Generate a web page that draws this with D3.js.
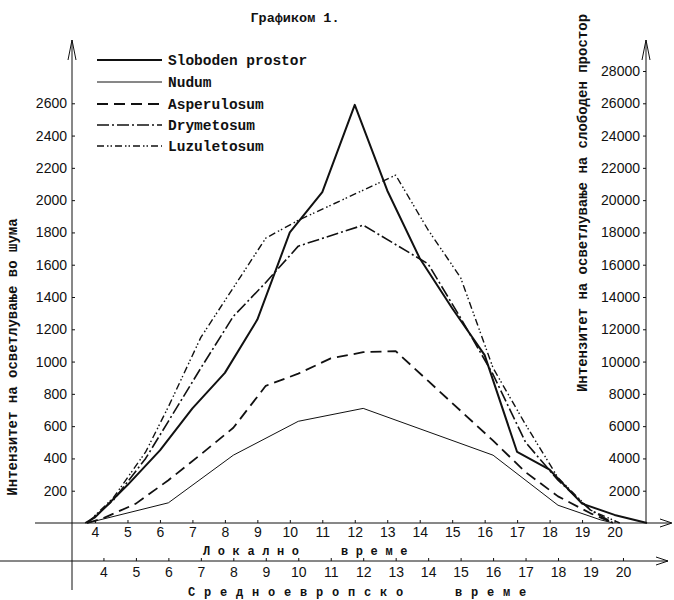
<!DOCTYPE html>
<html>
<head>
<meta charset="utf-8">
<script src="https://cdn.jsdelivr.net/npm/d3@7"></script>
<style>
body { margin: 0; background: #fff; }
text { fill: #111; }
.mono { font-family: "Liberation Mono", "DejaVu Sans Mono", monospace; font-weight: bold; }
.axis text { font-family: "Liberation Sans", Arial, sans-serif; font-size: 14px; fill: #111; }
.axis line { stroke: #111; }
</style>
</head>
<body>
<script>
// hour ticks (local time on upper axis, central european time on lower axis)
var hourTicks = d3.range(4, 21);
var leftTicks = d3.range(200, 2800, 200);
var rightTicks = d3.range(2000, 30000, 2000);

// Sloboden prostor - local time, right axis
var slobodenHours = [3.7, 4, 5, 6, 7, 8, 9, 10, 11, 12, 13, 14, 15, 16, 17, 18, 19, 20, 21];
var slobodenValues = [0, 350, 2350, 4500, 7100, 9300, 12600, 18000, 20500, 25900, 20600, 16400, 13300, 10400, 4400, 3300, 1200, 500, 0];

// forest stands - central european time, left axis
var nudumHours = [3.5, 6, 8, 10, 12, 16, 18, 19.3, 19.7];
var nudumValues = [0, 125, 420, 630, 710, 420, 110, 20, 0];

var asperHours = [3.5, 4, 5, 6, 7, 8, 9, 10, 11, 12, 13, 14, 15, 16, 17, 18, 19, 19.7];
var asperValues = [0, 30, 120, 265, 425, 590, 850, 925, 1020, 1058, 1065, 880, 695, 510, 315, 165, 60, 0];

var drymHours = [3.5, 4.3, 5.3, 6, 7, 8, 9, 10, 12, 14, 15, 16, 17, 18, 19, 19.7];
var drymValues = [0, 140, 400, 630, 960, 1280, 1490, 1715, 1845, 1605, 1270, 920, 500, 265, 80, 0];

var luzHours = [3.5, 4.3, 5.3, 6, 7, 9, 10, 13, 14, 15, 16, 17, 18, 19, 19.9];
var luzValues = [0, 155, 440, 720, 1150, 1765, 1875, 2155, 1815, 1520, 960, 610, 280, 80, 0];

var legendNames = ["Sloboden prostor", "Nudum", "Asperulosum", "Drymetosum", "Luzuletosum"];

var width = 674, height = 600;

var svg = d3.select("body").append("svg")
    .attr("width", width)
    .attr("height", height);

var x = d3.scaleLinear().domain([4, 21]).range([95, 647]);
var xCet = d3.scaleLinear().domain([3.74, 20.74]).range([95, 647]);
var yLeft = d3.scaleLinear().domain([0, 2800]).range([523, 71]);
var yRight = d3.scaleLinear().domain([0, 28000]).range([523, 71]);

var styles = [
    { width: 2, dash: null },
    { width: 1, dash: null },
    { width: 1.8, dash: "11,6" },
    { width: 1.6, dash: "12,3,2,3" },
    { width: 1.4, dash: "7,3,1.5,2,1.5,3" }
];

// axes lines with arrows
var ink = "#111";
svg.append("line").attr("x1", 72).attr("x2", 72).attr("y1", 40).attr("y2", 590).attr("stroke", ink);
svg.append("line").attr("x1", 646).attr("x2", 646).attr("y1", 40).attr("y2", 523).attr("stroke", ink);
svg.append("line").attr("x1", 35).attr("x2", 671).attr("y1", 523).attr("y2", 523).attr("stroke", ink);
svg.append("line").attr("x1", 0).attr("x2", 668).attr("y1", 561).attr("y2", 561).attr("stroke", ink);

var arrows = [
    "M68,60 L72,40 L76,60",
    "M642,60 L646,40 L650,60",
    "M660,519 L672,523 L660,527",
    "M656,557 L668,561 L656,565"
];
svg.selectAll(".arrow").data(arrows).enter().append("path")
    .attr("d", function (d) { return d; })
    .attr("fill", "none")
    .attr("stroke", ink);

var intFmt = d3.format("d");

// tick axes
svg.append("g").attr("class", "axis")
    .attr("transform", "translate(72,0)")
    .call(d3.axisLeft(yLeft).tickValues(leftTicks).tickFormat(intFmt).tickSize(-3).tickPadding(5))
    .select(".domain").remove();

svg.append("g").attr("class", "axis")
    .attr("transform", "translate(646,0)")
    .call(d3.axisLeft(yRight).tickValues(rightTicks).tickFormat(intFmt).tickSize(3).tickPadding(3))
    .select(".domain").remove();

svg.append("g").attr("class", "axis")
    .attr("transform", "translate(0,523)")
    .call(d3.axisBottom(x).tickValues(hourTicks).tickSize(-3).tickPadding(4))
    .select(".domain").remove();

svg.append("g").attr("class", "axis")
    .attr("transform", "translate(0,561)")
    .call(d3.axisBottom(xCet).tickValues(hourTicks).tickSize(-3).tickPadding(6))
    .select(".domain").remove();

// series
var series = [
    { pts: d3.zip(slobodenHours, slobodenValues), xs: x, ys: yRight },
    { pts: d3.zip(nudumHours, nudumValues), xs: xCet, ys: yLeft },
    { pts: d3.zip(asperHours, asperValues), xs: xCet, ys: yLeft },
    { pts: d3.zip(drymHours, drymValues), xs: xCet, ys: yLeft },
    { pts: d3.zip(luzHours, luzValues), xs: xCet, ys: yLeft }
];

series.forEach(function (s, i) {
    var line = d3.line()
        .x(function (d) { return s.xs(d[0]); })
        .y(function (d) { return s.ys(d[1]); });
    svg.append("path")
        .datum(s.pts)
        .attr("d", line)
        .attr("fill", "none")
        .attr("stroke", ink)
        .attr("stroke-width", styles[i].width)
        .attr("stroke-dasharray", styles[i].dash)
        .attr("stroke-linejoin", "round");
});

// legend
var legendY = [60, 82, 104, 125, 146];
var legend = svg.selectAll(".legend").data(legendNames).enter().append("g")
    .attr("transform", function (d, i) { return "translate(0," + legendY[i] + ")"; });
legend.append("line")
    .attr("x1", 97).attr("x2", 162)
    .attr("stroke", ink)
    .attr("stroke-width", function (d, i) { return styles[i].width; })
    .attr("stroke-dasharray", function (d, i) { return styles[i].dash; });
legend.append("text")
    .attr("class", "mono")
    .attr("x", 168).attr("dy", "0.32em")
    .style("font-size", "14.5px")
    .text(function (d) { return d; });

// titles
svg.append("text").attr("class", "mono")
    .attr("x", 295).attr("y", 22)
    .attr("text-anchor", "middle")
    .style("font-size", "13.5px")
    .text("Графиком 1.");

svg.append("text").attr("class", "mono")
    .attr("transform", "translate(17,357) rotate(-90)")
    .attr("text-anchor", "middle")
    .style("font-size", "14px")
    .text("Интензитет на осветлување во шума");

svg.append("text").attr("class", "mono")
    .attr("transform", "translate(587,203) rotate(-90)")
    .attr("text-anchor", "middle")
    .style("font-size", "14px")
    .text("Интензитет на осветлување на слободен простор");

var timeWords = [
    { t: "Локално", x: 203, y: 555, sp: 7.6 },
    { t: "време", x: 341, y: 555, sp: 7.6 },
    { t: "Средноевропско", x: 188, y: 596, sp: 8.8 },
    { t: "време", x: 455, y: 596, sp: 8.8 }
];
svg.selectAll(".tw").data(timeWords).enter().append("text")
    .attr("class", "mono")
    .attr("x", function (d) { return d.x; })
    .attr("y", function (d) { return d.y; })
    .attr("letter-spacing", function (d) { return d.sp; })
    .style("font-size", "12px")
    .text(function (d) { return d.t; });
</script>
</body>
</html>
